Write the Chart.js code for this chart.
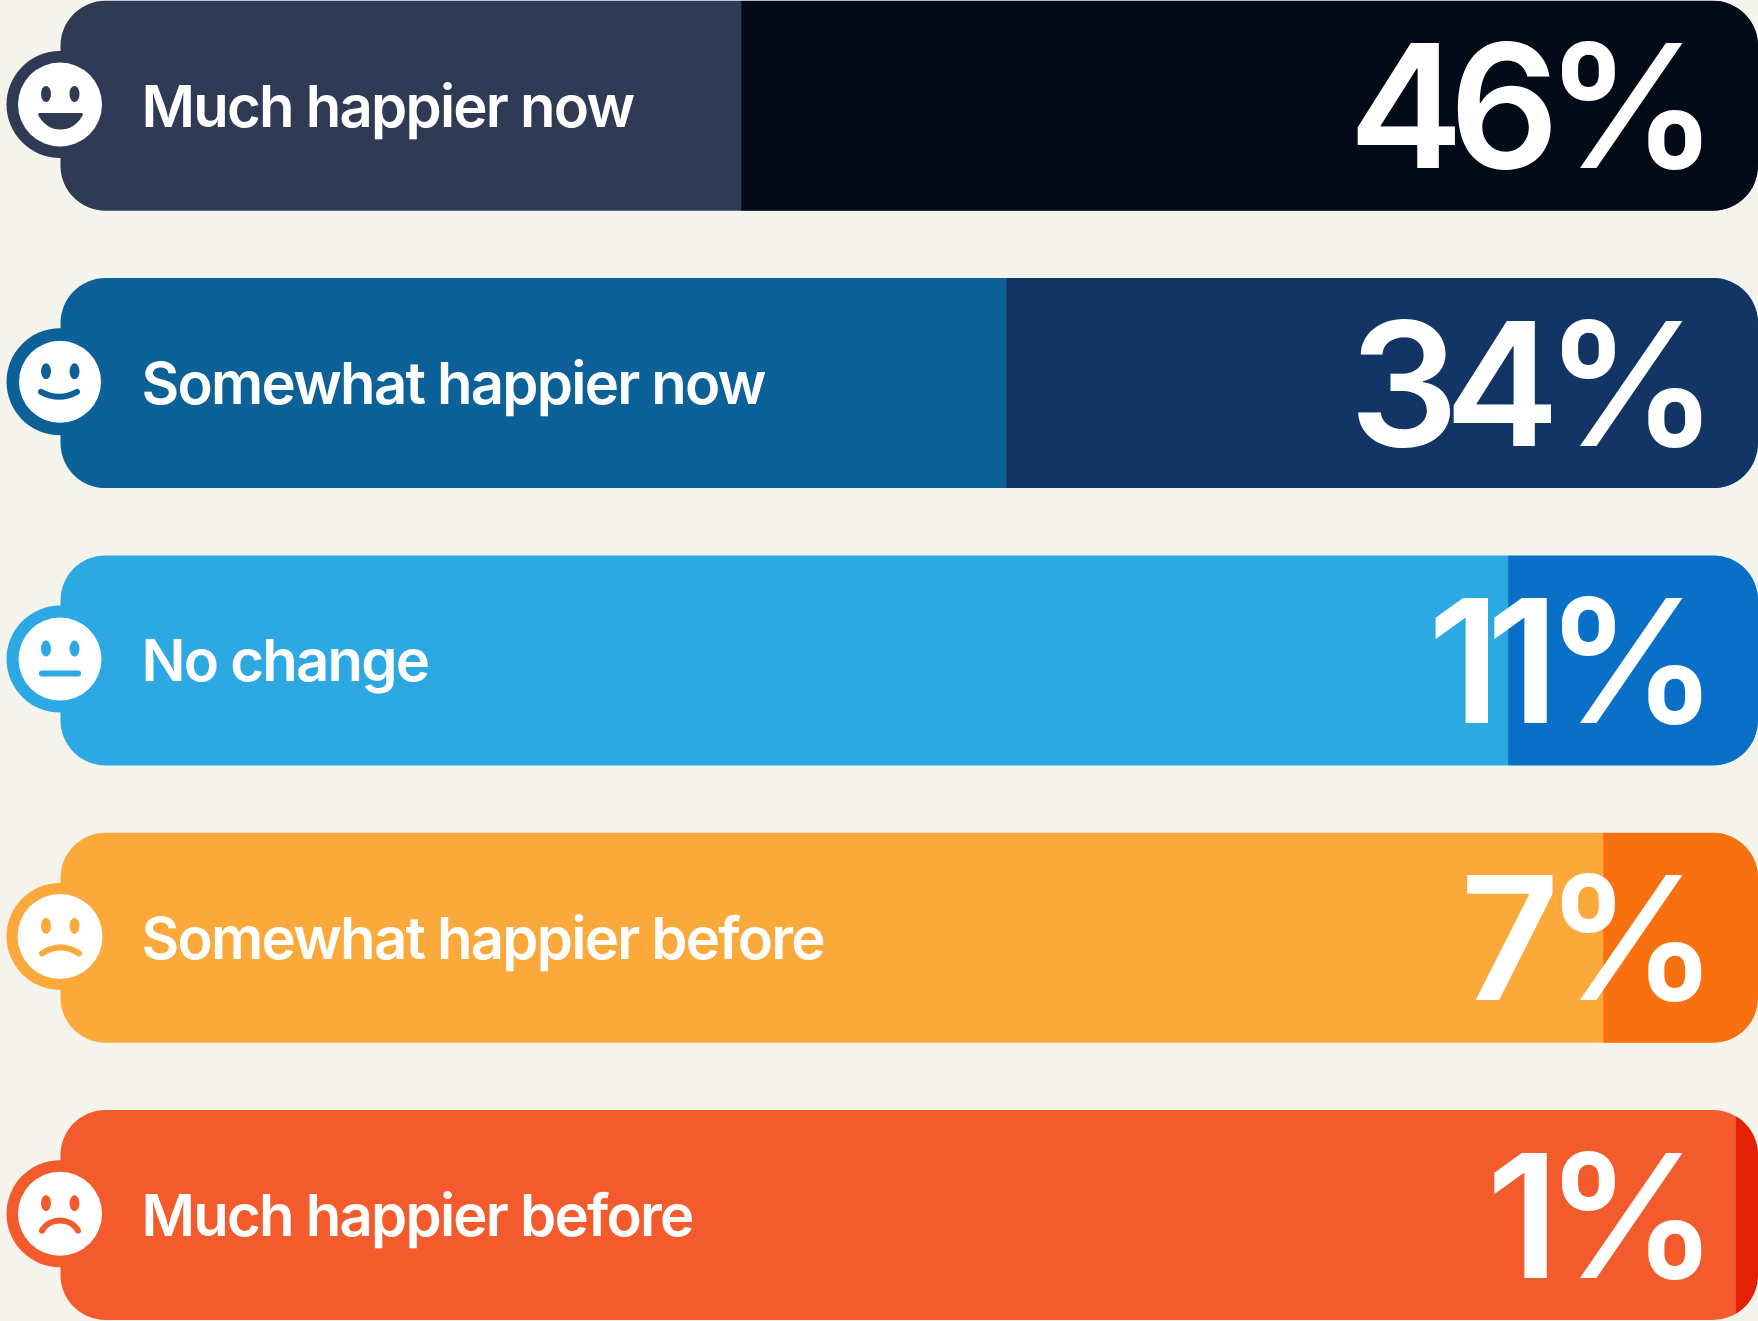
<!DOCTYPE html>
<html>
<head>
<meta charset="utf-8">
<style>html,body{margin:0;padding:0;background:#F5F4EC}canvas{display:block}</style>
<script src="https://cdn.jsdelivr.net/npm/chart.js@4/dist/chart.umd.min.js"></script>
</head>
<body>
<canvas id="c" width="1758" height="1321"></canvas>
<script>
const categories = ['Much happier now','Somewhat happier now','No change','Somewhat happier before','Much happier before'];
const barValues = [46, 34, 11.3, 7, 1];
const valueLabels = ['46%','34%','11%','7%','1%'];
const axisMax = 76.8;
const trackValues = [76.8, 76.8, 76.8, 76.8, 76.8];
const lightColors = ['#2F3A54','#0C6298','#2CA8E2','#FBA93B','#F35B2C'];
const darkColors = ['#040B18','#133565','#0A6FC6','#F8700F','#E32205'];
const mouths = ['grin','smile','flat','frown','sad'];

const FACE = {x:60, ring:53.5, disc:[42,41,41.5,42.5,42]};
function barPath(ctx, chart){
  const meta = chart.getDatasetMeta(1);
  ctx.beginPath();
  meta.data.forEach(b=>{
    const p = b.getProps(['x','y','base','height'], true);
    const l = Math.min(p.x,p.base), r = Math.max(p.x,p.base);
    ctx.roundRect(l, p.y-p.height/2, r-l, p.height, 45);
  });
}
const shapes = {
  beforeDraw(chart){ chart.ctx.letterSpacing='-1.75px'; },
  beforeDatasetDraw(chart, args){
    if(args.index!==0) return;
    chart.ctx.save();
    barPath(chart.ctx, chart);
    chart.ctx.clip();
  },
  afterDatasetDraw(chart, args){
    if(args.index===0) chart.ctx.restore();
  },
  afterDatasetsDraw(chart){
    const ctx = chart.ctx, meta = chart.getDatasetMeta(1);
    meta.data.forEach((b,i)=>{
      const cy = b.y - 1.3, col = lightColors[i];
      ctx.save();
      ctx.fillStyle = col;
      ctx.beginPath(); ctx.arc(FACE.x, cy, FACE.ring, 0, Math.PI*2); ctx.fill();
      ctx.fillStyle = '#fff';
      ctx.beginPath(); ctx.arc(FACE.x, cy, FACE.disc[i], 0, Math.PI*2); ctx.fill();
      ctx.fillStyle = col; ctx.strokeStyle = col; ctx.lineCap='round'; ctx.lineWidth = 6;
      [-14,14.5].forEach(dx=>{
        ctx.beginPath(); ctx.ellipse(FACE.x+dx, cy-10.5, 5, 8, 0, 0, Math.PI*2); ctx.fill();
      });
      ctx.beginPath();
      const m = mouths[i];
      if(m==='grin'){
        ctx.moveTo(39.5,cy+8.5); ctx.lineTo(81.5,cy+8.5);
        ctx.quadraticCurveTo(84,cy+9,82,cy+12);
        ctx.quadraticCurveTo(74,cy+25,60.5,cy+25);
        ctx.quadraticCurveTo(47,cy+25,39,cy+12);
        ctx.quadraticCurveTo(37,cy+9,39.5,cy+8.5);
        ctx.fill();
      } else if(m==='smile'){
        ctx.moveTo(41,cy+10); ctx.quadraticCurveTo(59,cy+20,77,cy+10); ctx.stroke();
      } else if(m==='flat'){
        ctx.moveTo(42,cy+14.5); ctx.lineTo(78,cy+14.5); ctx.stroke();
      } else if(m==='frown'){
        ctx.moveTo(42,cy+17); ctx.quadraticCurveTo(60.5,cy+5,79,cy+17); ctx.stroke();
      } else {
        ctx.moveTo(42,cy+17); ctx.bezierCurveTo(49,cy+3.5,71,cy+3.5,78,cy+17); ctx.stroke();
      }
      ctx.restore();

      ctx.save();
      ctx.fillStyle='#fff';
      ctx.font='600 172px Inter';
      ctx.letterSpacing='-14px';
      ctx.textAlign='right';
      ctx.textBaseline='alphabetic';
      ctx.fillText(valueLabels[i], chart.chartArea.right-54, b.y+62.5);
      ctx.restore();
    });
  }
};

new Chart(document.getElementById('c'), {
  type:'bar',
  data:{
    labels:categories,
    datasets:[
      {label:'Share', data:barValues, backgroundColor:darkColors, order:0, clip:false, grouped:false, barThickness:210, borderWidth:0, inflateAmount:0},
      {label:'Track', data:trackValues, backgroundColor:lightColors, order:1, clip:false, grouped:false, barThickness:210, borderWidth:0, borderRadius:45, borderSkipped:false, inflateAmount:0}
    ]
  },
  plugins:[shapes],
  options:{
    indexAxis:'y',
    responsive:false,
    animation:false,
    events:[],
    layout:{padding:{left:60.5,right:0,top:105.8,bottom:106}},
    plugins:{legend:{display:false},tooltip:{enabled:false}},
    scales:{
      x:{display:false, reverse:true, min:0, max:axisMax},
      y:{
        offset:false,
        afterFit(s){ s.width=0; s.paddingTop=0; s.paddingBottom=0; },
        grid:{display:false}, border:{display:false},
        ticks:{z:1, mirror:true, padding:81, labelOffset:3.5, color:'#fff', font:{family:'Inter',size:58,weight:'600'}}
      }
    }
  }
});
</script>
</body>
</html>
